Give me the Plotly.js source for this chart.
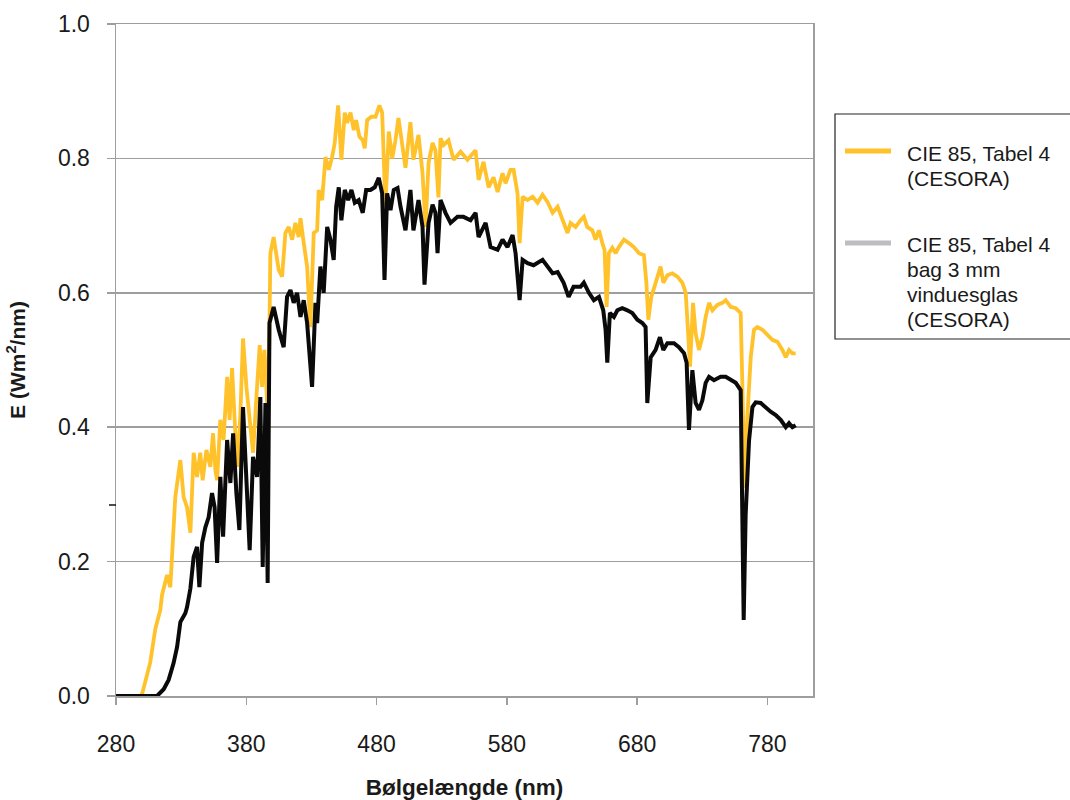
<!DOCTYPE html>
<html>
<head>
<meta charset="utf-8">
<script src="https://cdn.plot.ly/plotly-3.0.1.min.js"></script>
<style>html,body{margin:0;padding:0;background:#fff;}#chart{width:1070px;height:800px;}</style>
</head>
<body>
<div id="chart"></div>
<script>
// Wavelength (nm) and irradiance E (W m^-2 nm^-1)
const cieWavelength = [280,299,300.3,306.3,310.2,314.0,315.3,317.9,319.2,321.7,323.0,325.5,329.4,331.9,334.5,337.1,339.6,342.2,344.7,346.5,349.4,352.4,354.5,356.3,357.6,360.1,362.6,365.3,367.2,369.1,371.6,373.4,375.5,377.5,380.1,382.6,385.2,387.8,390.3,392.1,393.9,396.0,397.6,398.5,401.0,404.9,407.5,410.0,412.6,415.2,417.7,420.2,421.6,424.1,426.7,429.2,431.8,434.4,435.6,438.2,440.8,443.3,445.9,447.9,450.5,453.0,455.6,457.4,460.0,462.5,464.3,466.9,469.4,470.9,472.8,476.1,479.2,482.2,484.3,486.8,489.4,492.0,494.5,496.8,499.9,502.2,506.0,508.3,512.2,515.3,517.6,519.9,523.0,525.2,527.5,529.1,531.4,535.2,539.1,544.5,549.8,556.0,558.3,562.1,566.0,569.8,572.9,576.7,579.0,582.8,585.2,588.2,589.8,592.1,595.9,599.8,603.6,607.4,611.3,615.1,619.0,622.8,626.6,628.9,632.8,636.6,639.1,641.7,645.6,648.1,650.7,653.3,655.0,656.6,658.3,661.0,663.5,666.0,669.9,673.7,677.5,681.4,685.2,687.1,688.6,690.9,694.2,698.0,700.1,703.2,707.0,710.9,714.7,717.3,719.0,720.6,722.9,724.9,727.5,730.1,732.6,735.2,737.8,741.6,745.4,748.0,751.8,755.7,759.5,760.8,762.6,764.6,767.2,769.7,772.3,776.2,780.0,783.8,787.7,791.5,794.1,796.6,799.2,801.7];
const cieValues = [0,0,0.005,0.05,0.10,0.128,0.15,0.173,0.18,0.162,0.213,0.296,0.351,0.296,0.281,0.243,0.362,0.326,0.362,0.321,0.366,0.341,0.391,0.336,0.321,0.411,0.381,0.475,0.411,0.488,0.391,0.341,0.421,0.532,0.46,0.411,0.362,0.445,0.522,0.46,0.515,0.436,0.52,0.659,0.683,0.634,0.624,0.689,0.698,0.679,0.704,0.683,0.711,0.674,0.639,0.549,0.689,0.693,0.753,0.738,0.802,0.783,0.802,0.823,0.879,0.798,0.868,0.853,0.868,0.842,0.857,0.832,0.827,0.815,0.857,0.862,0.862,0.879,0.868,0.73,0.84,0.80,0.827,0.86,0.817,0.786,0.854,0.798,0.835,0.778,0.698,0.793,0.823,0.812,0.742,0.83,0.82,0.827,0.798,0.81,0.798,0.812,0.768,0.795,0.757,0.772,0.75,0.778,0.763,0.783,0.783,0.748,0.674,0.743,0.738,0.743,0.734,0.746,0.735,0.719,0.728,0.708,0.689,0.704,0.698,0.708,0.713,0.698,0.693,0.679,0.693,0.674,0.664,0.579,0.659,0.667,0.659,0.668,0.679,0.674,0.668,0.659,0.656,0.615,0.56,0.594,0.615,0.639,0.615,0.626,0.629,0.624,0.615,0.6,0.545,0.49,0.585,0.54,0.515,0.534,0.564,0.585,0.574,0.582,0.585,0.589,0.579,0.577,0.57,0.466,0.31,0.415,0.504,0.545,0.549,0.545,0.537,0.53,0.527,0.515,0.504,0.515,0.51,0.51];

const glassWavelength = [280,311.5,316.6,320.4,324.2,326.9,329.4,333.2,334.5,337.1,339.6,342.2,344.0,346.1,348.6,351.1,353.7,355.7,357.6,360.1,362.2,365.3,367.8,369.9,372.4,374.7,377.5,380.1,382.6,385.2,388.3,390.8,392.6,394.7,396.4,397.8,401.0,404.9,408.7,411.3,413.9,416.4,419.0,421.6,424.1,426.7,430.5,433.1,434.4,436.9,439.4,442.1,444.6,447.1,449.0,451.0,453.0,455.6,458.2,460.7,463.3,466.3,469.4,472.0,475.3,478.6,481.7,484.3,486.1,488.1,490.7,493.2,496.1,498.4,502.2,506.0,508.3,512.2,515.3,516.8,519.9,523.0,525.2,526.8,529.1,532.9,536.8,542.1,546.7,552.1,556.0,558.3,563.7,567.5,572.9,576.7,580.5,584.4,586.7,589.8,592.1,595.9,600.5,607.4,611.3,615.1,619.0,623.6,627.4,631.2,636.6,639.1,643.0,646.8,650.7,654.0,655.8,657.1,659.1,662.2,664.8,668.6,672.5,676.3,680.2,684.0,686.5,687.8,690.4,694.2,697.5,700.1,703.2,708.3,712.1,716.0,718.0,719.8,722.4,724.9,727.5,730.1,732.6,735.2,739.0,744.1,748.0,751.8,755.7,759.5,760.8,761.8,763.3,765.9,768.5,771.0,774.9,778.7,782.5,786.4,790.2,794.1,796.6,799.2,801.7];
const glassValues = [0,0,0.01,0.024,0.049,0.073,0.11,0.123,0.132,0.16,0.207,0.222,0.162,0.228,0.251,0.266,0.302,0.281,0.198,0.326,0.237,0.381,0.317,0.391,0.302,0.247,0.43,0.332,0.217,0.356,0.326,0.445,0.192,0.436,0.168,0.555,0.579,0.545,0.519,0.594,0.604,0.585,0.6,0.564,0.589,0.555,0.46,0.585,0.555,0.639,0.6,0.698,0.679,0.649,0.728,0.757,0.708,0.753,0.738,0.753,0.734,0.738,0.719,0.753,0.753,0.757,0.771,0.748,0.619,0.748,0.723,0.753,0.756,0.728,0.693,0.753,0.693,0.738,0.698,0.612,0.704,0.731,0.719,0.659,0.738,0.719,0.704,0.713,0.713,0.708,0.719,0.683,0.704,0.668,0.664,0.679,0.668,0.686,0.659,0.589,0.649,0.644,0.641,0.649,0.638,0.629,0.631,0.615,0.594,0.609,0.609,0.615,0.6,0.589,0.594,0.574,0.545,0.496,0.57,0.564,0.574,0.577,0.574,0.57,0.56,0.555,0.549,0.436,0.504,0.515,0.534,0.515,0.525,0.525,0.519,0.51,0.496,0.396,0.485,0.436,0.426,0.44,0.466,0.475,0.47,0.475,0.475,0.47,0.466,0.455,0.30,0.113,0.27,0.38,0.43,0.437,0.436,0.429,0.423,0.418,0.411,0.4,0.406,0.4,0.403];

const xTicks = [280,380,480,580,680,780];
const yTicks = [0,0.2,0.4,0.6,0.8,1.0];
const seriesNames = ["CIE 85, Tabel 4 (CESORA)", "CIE 85, Tabel 4 bag 3 mm vinduesglas (CESORA)"];
const legendLines1 = ["CIE 85, Tabel 4", "(CESORA)"];
const legendLines2 = ["CIE 85, Tabel 4", "bag 3 mm", "vinduesglas", "(CESORA)"];
const xTitle = "Bølgelængde (nm)";
const yTitle = "E (Wm<sup>2</sup>/nm)";

// --- layout geometry (pixels) ---
const W = 1070, H = 800;
const L = 116, R = 813, T = 24, B = 696;
const pw = R - L, ph = B - T;
const px = v => (v - L) / pw;      // pixel x -> paper x
const py = v => (B - v) / ph;      // pixel y -> paper y

const YELLOW = '#FFC22B', BLACK = '#0a0a0a', GREY = '#9E9E9E', LEGGREY = '#BEBEC2';
const FONT = 'Liberation Sans, Arial, sans-serif';

const traces = [
  {x: cieWavelength, y: cieValues, type: 'scatter', mode: 'lines', name: seriesNames[0],
   line: {color: YELLOW, width: 3.8}, showlegend: false},
  {x: glassWavelength, y: glassValues, type: 'scatter', mode: 'lines', name: seriesNames[1],
   line: {color: BLACK, width: 4}, showlegend: false}
];

const shapes = [
  {type: 'rect', xref: 'paper', yref: 'paper', x0: px(835), x1: px(1072), y0: py(339), y1: py(114),
   line: {color: '#222', width: 1.2}, fillcolor: 'rgba(0,0,0,0)'},
  {type: 'line', xref: 'paper', yref: 'paper', x0: px(845), x1: px(891), y0: py(151), y1: py(151),
   line: {color: YELLOW, width: 5}},
  {type: 'line', xref: 'paper', yref: 'paper', x0: px(845), x1: px(891), y0: py(243), y1: py(243),
   line: {color: LEGGREY, width: 5}},
  {type: 'line', xref: 'paper', yref: 'paper', x0: px(109), x1: px(116), y0: py(505), y1: py(505),
   line: {color: '#111', width: 1.5}}
];

const annotations = [];
legendLines1.forEach((t, i) => annotations.push({
  text: t, xref: 'paper', yref: 'paper', x: px(905), y: py(153.5 + 25 * i), xanchor: 'left', yanchor: 'middle',
  showarrow: false, font: {family: FONT, size: 21, color: '#1a1a1a'}
}));
legendLines2.forEach((t, i) => annotations.push({
  text: t, xref: 'paper', yref: 'paper', x: px(905), y: py(244.5 + 25 * i), xanchor: 'left', yanchor: 'middle',
  showarrow: false, font: {family: FONT, size: 21, color: '#1a1a1a'}
}));

const layout = {
  width: W, height: H,
  margin: {l: L, r: W - R, t: T, b: H - B, pad: 0},
  paper_bgcolor: '#fff', plot_bgcolor: '#fff',
  showlegend: false,
  font: {family: FONT, color: '#1a1a1a'},
  xaxis: {
    range: [280, 815], tickvals: xTicks, ticktext: xTicks.map(String),
    ticks: 'outside', ticklen: 7, tickwidth: 1.5, tickcolor: GREY,
    showline: true, linecolor: GREY, linewidth: 1.5, mirror: true,
    showgrid: false, zeroline: false,
    tickfont: {family: FONT, size: 23, color: '#1a1a1a'},
    ticklabelstandoff: 20,
    title: {text: xTitle, font: {family: FONT, size: 22.5, weight: 700, color: '#1a1a1a'}, standoff: 28}
  },
  yaxis: {
    range: [0, 1], tickvals: yTicks, ticktext: yTicks.map(v => v.toFixed(1)),
    ticks: 'outside', ticklen: 8, tickwidth: 1.5, tickcolor: GREY,
    showline: true, linecolor: GREY, linewidth: 1.5, mirror: true,
    showgrid: true, gridcolor: GREY, gridwidth: 1.5, zeroline: false,
    tickfont: {family: FONT, size: 23, color: '#1a1a1a'},
    ticklabelstandoff: 12,
    title: {text: yTitle, font: {family: FONT, size: 21, weight: 700, color: '#1a1a1a'}, standoff: 26}
  },
  shapes: shapes,
  annotations: annotations
};

Plotly.newPlot('chart', traces, layout, {displayModeBar: false, staticPlot: true});
</script>
</body>
</html>
